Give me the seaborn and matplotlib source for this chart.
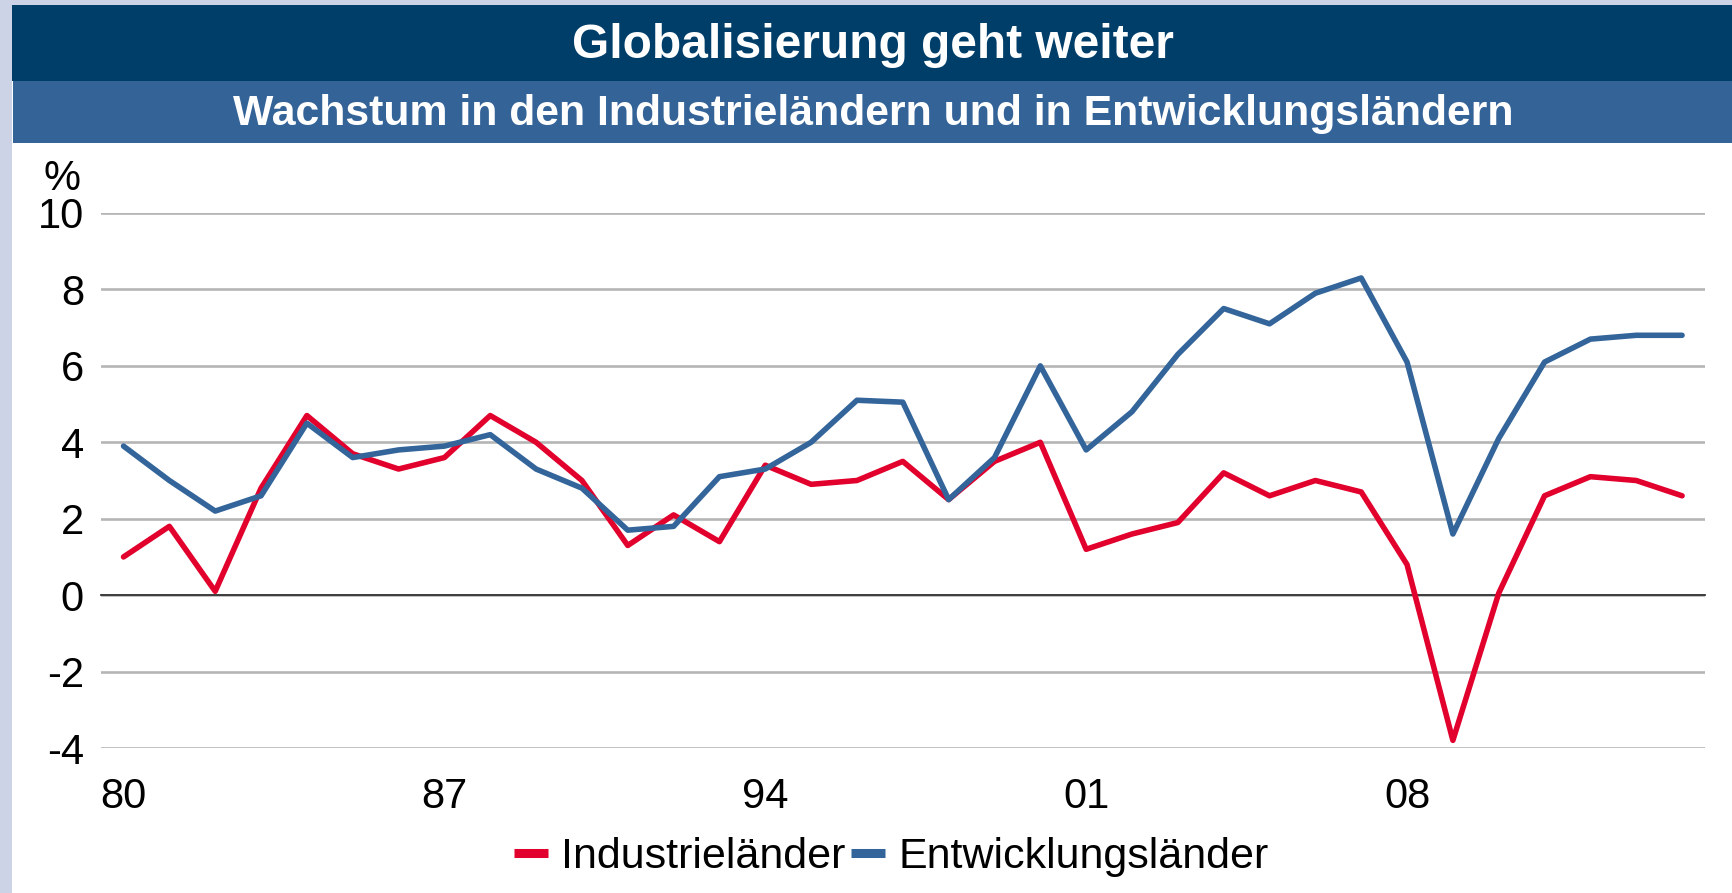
import numpy as np
import pandas as pd
import matplotlib
matplotlib.use("Agg")
import matplotlib.pyplot as plt
from matplotlib.patches import Rectangle
import seaborn as sns

# data (% growth)
years = list(range(1980, 2015))
industrie = [1.0, 1.8, 0.1, 2.8, 4.7, 3.7, 3.3, 3.6, 4.7, 4.0,
             3.0, 1.3, 2.1, 1.4, 3.4, 2.9, 3.0, 3.5, 2.5, 3.5,
             4.0, 1.2, 1.6, 1.9, 3.2, 2.6, 3.0, 2.7, 0.8, -3.8,
             0.05, 2.6, 3.1, 3.0, 2.6]
entwicklung = [3.9, 3.0, 2.2, 2.6, 4.5, 3.6, 3.8, 3.9, 4.2, 3.3,
               2.8, 1.7, 1.8, 3.1, 3.3, 4.0, 5.1, 5.05, 2.5, 3.6,
               6.0, 3.8, 4.8, 6.3, 7.5, 7.1, 7.9, 8.3, 6.1, 1.6,
               4.1, 6.1, 6.7, 6.8, 6.8]
series_names = ["Industrieländer", "Entwicklungsländer"]
xtick_years = [1980, 1987, 1994, 2001, 2008]
xtick_labels = ["80", "87", "94", "01", "08"]
ytick_vals = [-4, -2, 0, 2, 4, 6, 8, 10]

title = "Globalisierung geht weiter"
subtitle = "Wachstum in den Industrieländern und in Entwicklungsländern"


def main():
    sns.set_style("white")
    plt.rcParams["font.family"] = ["Liberation Sans", "DejaVu Sans"]
    plt.rcParams["text.color"] = "black"
    plt.rcParams["xtick.labelcolor"] = "black"
    plt.rcParams["ytick.labelcolor"] = "black"

    df = pd.DataFrame({
        "Jahr": years * 2,
        "Wert": industrie + entwicklung,
        "Reihe": [series_names[0]] * len(years) + [series_names[1]] * len(years),
    })

    W, H = 1733, 893
    fig = plt.figure(figsize=(W / 100, H / 100), dpi=100)
    fig.patch.set_facecolor("white")

    # frame + header bands
    fig.patches.append(Rectangle((0, 0), 12 / W, 1, transform=fig.transFigure,
                                 facecolor="#CDD3E6", edgecolor="none", zorder=0))
    fig.patches.append(Rectangle((0, 1 - 5 / H), 1, 5 / H, transform=fig.transFigure,
                                 facecolor="#CDD3E6", edgecolor="none", zorder=0))
    fig.patches.append(Rectangle((12 / W, 1 - 81 / H), 1, 76 / H, transform=fig.transFigure,
                                 facecolor="#003E6A", edgecolor="none", zorder=0))
    fig.patches.append(Rectangle((13 / W, 1 - 143 / H), 1, 62 / H, transform=fig.transFigure,
                                 facecolor="#346398", edgecolor="none", zorder=0))
    fig.text(873 / W, 1 - 45 / H, title, ha="center", va="center",
             color="white", fontsize=34.5, fontweight="bold")
    fig.text(873 / W, 1 - 114 / H, subtitle, ha="center", va="center",
             color="white", fontsize=30.8, fontweight="bold")

    ax = fig.add_axes([100.6 / W, 1 - 748 / H, (1705 - 100.6) / W, (748 - 213) / H])
    sns.lineplot(data=df, x="Jahr", y="Wert", hue="Reihe", hue_order=series_names,
                 palette=["#E2002D", "#33659B"], linewidth=4.0, ax=ax, zorder=3)

    ax.set_xlim(years[0] - 0.5, years[-1] + 0.5)
    ax.set_ylim(-4, 10)
    ax.set_xlabel("")
    ax.set_ylabel("")

    # y axis
    ax.set_yticks(ytick_vals, labels=[str(v) for v in ytick_vals])
    ax.tick_params(axis="y", length=0, pad=12, labelsize=30, labelcolor="black")
    ax.yaxis.grid(True, color="#B5B5B5", linewidth=1.9)
    ax.set_axisbelow(True)
    for s in ["left", "right", "top"]:
        ax.spines[s].set_visible(False)

    # category axis at zero with boundary ticks
    ax.spines["bottom"].set_position(("data", 0))
    ax.spines["bottom"].set_color("#333333")
    ax.spines["bottom"].set_linewidth(1.3)
    ax.set_xticks(np.arange(years[0] - 0.5, years[-1] + 1.0, 1.0), minor=True)
    ax.set_xticks([])
    ax.tick_params(axis="x", which="minor", length=9, width=1.0, color="#333333",
                   direction="out", labelbottom=False)

    sec = ax.secondary_xaxis("bottom")
    sec.set_xticks(xtick_years, labels=xtick_labels)
    sec.tick_params(length=0, pad=21, labelsize=30, labelcolor="black")
    sec.spines["bottom"].set_visible(False)

    fig.text(44 / W, 1 - 179 / H, "%", ha="left", va="center", fontsize=30)

    handles, labels = ax.get_legend_handles_labels()
    ax.get_legend().remove()
    leg = fig.legend(handles, labels, loc="center", bbox_to_anchor=(891 / W, 1 - 857 / H),
                     ncol=2, frameon=False, fontsize=31, handlelength=0.8,
                     handletextpad=0.3, columnspacing=0.12, borderaxespad=0,
                     labelcolor="black")
    for h in leg.legend_handles:
        h.set_linewidth(6.5)
        h.set_solid_capstyle("butt")

    fig.savefig("out.png", dpi=100, facecolor=fig.get_facecolor())


if __name__ == "__main__":
    main()
